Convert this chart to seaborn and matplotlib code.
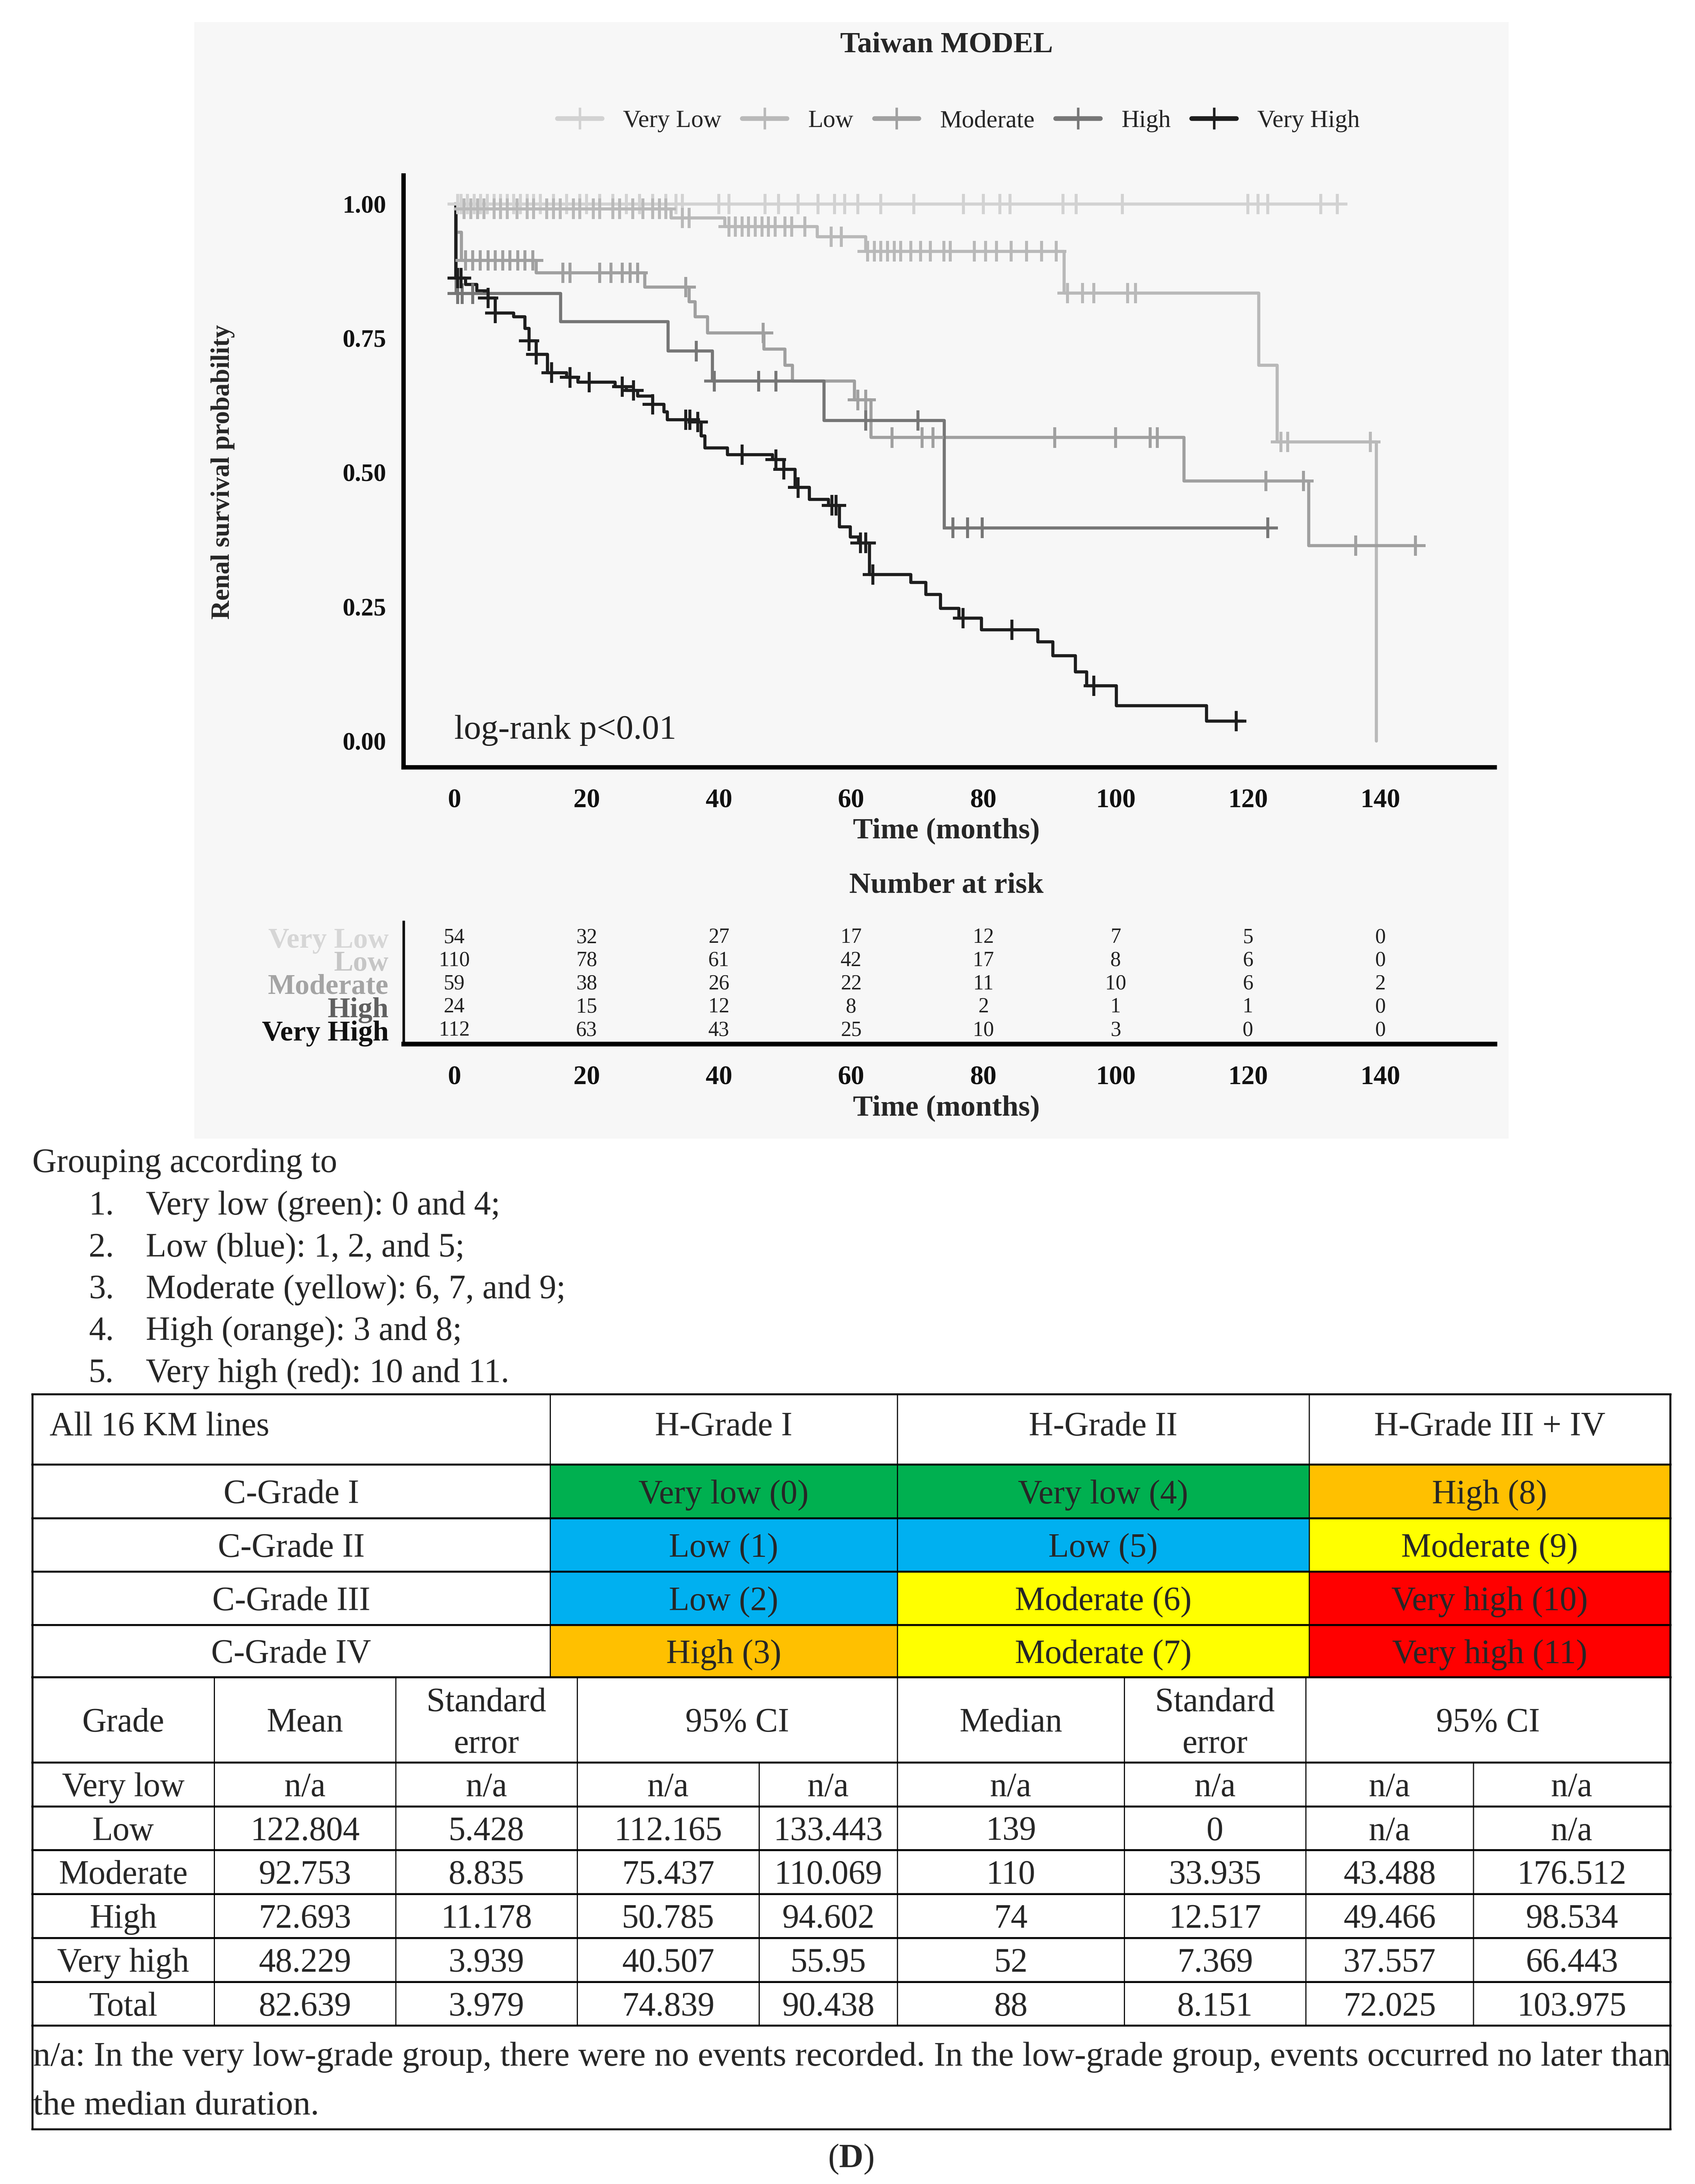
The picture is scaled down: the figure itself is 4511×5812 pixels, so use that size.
import numpy as np
import pandas as pd
import matplotlib
matplotlib.use("Agg")
import matplotlib.pyplot as plt
import seaborn as sns
from matplotlib.lines import Line2D
from matplotlib.patches import Rectangle

# ---------------- data ----------------
groups = ["Very Low", "Low", "Moderate", "High", "Very High"]

vlow_t = [0, 133.5]
vlow_s = [1.0, 1.0]
vlow_c = [0.5, 1, 2, 3, 4, 5, 6, 7, 8, 9, 10, 11, 12, 13, 15, 17, 19, 20, 22, 24, 26, 28, 30, 32,
          33.5, 34.5, 40, 41.5, 47, 49, 52, 55, 57.5, 59, 61, 64.5, 69.5, 77, 80, 82.5, 84,
          92, 94, 101, 120, 121.5, 123, 131, 133.5]

low_t = [0, 0.5, 32.8, 40.9, 54.9, 62.2, 92.2, 121.6, 124.4, 139.4]
low_s = [1.0, 0.991, 0.974, 0.958, 0.939, 0.912, 0.834, 0.700, 0.557, 0.0]
low_c = [1.5, 2.5, 3.5, 4.5, 6, 7, 8, 9.5, 11, 12, 14, 15, 16, 18, 19, 21, 22, 24, 25, 27, 28.5, 30, 31, 32,
         34.5, 35.5, 41.5, 42.5, 43.5, 44.5, 45.5, 46.5, 47.5, 48.5, 50, 51, 53, 57, 58.5,
         62.5, 63.5, 64.5, 65.5, 66.5, 67.5, 69, 70.5, 72, 74, 75, 78.6, 80.3, 82, 84.2, 86.5, 88.8, 91,
         92.7, 95, 96.7, 101.8, 103, 125, 126, 138.5]

mod_t = [0, 0.3, 1.1, 12.4, 28.8, 35.5, 36.4, 38.3, 46.8, 50.0, 51.1, 60.5, 63.0, 110.3, 129.2, 145.3]
mod_s = [1.0, 0.947, 0.895, 0.872, 0.845, 0.818, 0.790, 0.760, 0.730, 0.700, 0.670, 0.635, 0.565,
         0.484, 0.364, 0.364]
mod_c = [1.7, 2.8, 3.9, 5.1, 6.2, 7.3, 8.4, 9.6, 10.7, 11.9, 16.4, 17.5, 22, 23.7, 25.4, 26.6, 27.7,
         35, 46.7, 61, 62.2, 66.2, 70.7, 72.4, 90.8, 100, 105.2, 106.3, 122.7, 128.4, 136.3, 145.3]

high_t = [0, 0.3, 16.1, 32.3, 39.0, 55.9, 74.1, 123.0]
high_s = [1.0, 0.833, 0.781, 0.726, 0.670, 0.597, 0.397, 0.397]
high_c = [0.5, 1.2, 2.8, 36.6, 39.3, 46, 48.6, 62.2, 70.1, 75.4, 77.6, 79.8, 123]

vhigh_t = [0, 0.2, 1.7, 3.4, 5.1, 6.2, 9.0, 10.7, 11.3, 12.4, 14.1, 17.0, 18.7, 24.3, 26.0, 27.7,
           30.0, 31.7, 32.2, 36.8, 37.3, 37.9, 41.3, 48.1, 49.8, 51.5, 53.7, 56.6, 58.2, 59.9, 61.1,
           62.8, 69.0, 71.3, 73.5, 76.3, 79.7, 88.2, 90.5, 93.9, 95.6, 100.1, 113.7, 119.3]
vhigh_s = [1.0, 0.862, 0.850, 0.838, 0.825, 0.797, 0.790, 0.768, 0.745, 0.720, 0.686, 0.677, 0.668,
           0.660, 0.653, 0.642, 0.627, 0.613, 0.598, 0.594, 0.568, 0.546, 0.533, 0.524, 0.506, 0.472,
           0.450, 0.439, 0.399, 0.380, 0.369, 0.310, 0.295, 0.273, 0.247, 0.229, 0.207, 0.185, 0.159,
           0.129, 0.103, 0.066, 0.037, 0.037]
vhigh_c = [0.5, 1.0, 5.1, 6.2, 11.3, 12.4, 14.7, 17.5, 20.4, 25.4, 27.1, 30, 35, 35.6, 36.8, 43.5,
           48.6, 49.8, 52, 57.1, 57.7, 61.4, 62.2, 63.3, 76.9, 84.3, 96.7, 118.2]

risk_times = [0, 20, 40, 60, 80, 100, 120, 140]
risk_vlow = [54, 32, 27, 17, 12, 7, 5, 0]
risk_low = [110, 78, 61, 42, 17, 8, 6, 0]
risk_mod = [59, 38, 26, 22, 11, 10, 6, 2]
risk_high = [24, 15, 12, 8, 2, 1, 1, 0]
risk_vhigh = [112, 63, 43, 25, 10, 3, 0, 0]

y_ticks = [0.0, 0.25, 0.5, 0.75, 1.0]
y_ticklabels = ["0.00", "0.25", "0.50", "0.75", "1.00"]
x_ticks = [0, 20, 40, 60, 80, 100, 120, 140]

grouping_intro = "Grouping according to"
grouping_items = ["Very low (green): 0 and 4;", "Low (blue): 1, 2, and 5;",
                  "Moderate (yellow): 6, 7, and 9;", "High (orange): 3 and 8;",
                  "Very high (red): 10 and 11."]

t1_header = ["All 16 KM lines", "H-Grade I", "H-Grade II", "H-Grade III + IV"]
t1_rows = ["C-Grade I", "C-Grade II", "C-Grade III", "C-Grade IV"]
t1_cells = [["Very low (0)", "Very low (4)", "High (8)"],
            ["Low (1)", "Low (5)", "Moderate (9)"],
            ["Low (2)", "Moderate (6)", "Very high (10)"],
            ["High (3)", "Moderate (7)", "Very high (11)"]]
cell_colors = {"Very low": "#00B050", "Low": "#00B0F0", "Moderate": "#FFFF00",
               "High": "#FFC000", "Very high": "#FF0000"}

t2_header = ["Grade", "Mean", "Standard\nerror", "95% CI", "Median", "Standard\nerror", "95% CI"]
t2_grade = ["Very low", "Low", "Moderate", "High", "Very high", "Total"]
t2_mean = ["n/a", "122.804", "92.753", "72.693", "48.229", "82.639"]
t2_se = ["n/a", "5.428", "8.835", "11.178", "3.939", "3.979"]
t2_lo = ["n/a", "112.165", "75.437", "50.785", "40.507", "74.839"]
t2_hi = ["n/a", "133.443", "110.069", "94.602", "55.95", "90.438"]
t2_median = ["n/a", "139", "110", "74", "52", "88"]
t2_se2 = ["n/a", "0", "33.935", "12.517", "7.369", "8.151"]
t2_lo2 = ["n/a", "n/a", "43.488", "49.466", "37.557", "72.025"]
t2_hi2 = ["n/a", "n/a", "176.512", "98.534", "66.443", "103.975"]
footnote = ["n/a: In the very low-grade group, there were no events recorded. In the low-grade group, events occurred no later than",
            "the median duration."]

# ---------------- styling ----------------
sns.set_theme(style="white")
plt.rcParams["font.family"] = ["Liberation Serif", "DejaVu Serif"]
plt.rcParams["mathtext.fontset"] = "custom"
plt.rcParams["mathtext.rm"] = "Liberation Serif"
plt.rcParams["mathtext.bf"] = "Liberation Serif:bold"

line_colors = {"Very Low": "#d2d2d2", "Low": "#b9b9b9", "Moderate": "#a0a0a0",
               "High": "#767676", "Very High": "#1e1e1e"}
label_colors = {"Very Low": "#d6d6d6", "Low": "#c6c6c6", "Moderate": "#a4a4a4",
                "High": "#606060", "Very High": "#111111"}

W, H = 4511, 5812
fig = plt.figure(figsize=(W / 300, H / 300), dpi=300)
fig.patch.set_facecolor("white")

# background axes in pixel coordinates
bg = fig.add_axes([0, 0, 1, 1])
bg.set_xlim(0, W)
bg.set_ylim(H, 0)
bg.axis("off")
bg.add_patch(Rectangle((517, 59), 4015 - 517, 3030 - 59, facecolor="#f7f7f7", edgecolor="none", zorder=0))

def fx(px):
    return px / W

def fy(py):
    return 1 - py / H

# ---------------- KM axes ----------------
ax = fig.add_axes([fx(1074), fy(2042), fx(3978) - fx(1074), fy(467) - fy(2042)])
ax.set_facecolor("none")

def step_val(ts, ss, c):
    ts = np.asarray(ts)
    ss = np.asarray(ss)
    idx = np.searchsorted(ts, c, side="right") - 1
    return ss[np.clip(idx, 0, len(ss) - 1)]

curve_data = [(vlow_t, vlow_s, vlow_c), (low_t, low_s, low_c), (mod_t, mod_s, mod_c),
              (high_t, high_s, high_c), (vhigh_t, vhigh_s, vhigh_c)]
curves = pd.concat([pd.DataFrame({"time": t, "surv": s, "group": g})
                    for g, (t, s, c) in zip(groups, curve_data)], ignore_index=True)
cens = pd.concat([pd.DataFrame({"time": c, "surv": step_val(t, s, c), "group": g})
                  for g, (t, s, c) in zip(groups, curve_data)], ignore_index=True)

sns.lineplot(data=curves, x="time", y="surv", hue="group", hue_order=groups, palette=line_colors,
             estimator=None, sort=False, drawstyle="steps-post", linewidth=2.0, legend=False, ax=ax)
sns.scatterplot(data=cens, x="time", y="surv", hue="group", hue_order=groups, palette=line_colors,
                marker="+", s=170, linewidth=1.9, legend=False, ax=ax, zorder=3)

ax.set_xlim(-7.67, 157.3)
ax.set_ylim(-0.049, 1.053)
ax.set_yticks(y_ticks)
ax.set_yticklabels(y_ticklabels)
ax.set_xticks(x_ticks)
ax.set_xlabel("")
ax.set_ylabel("")
for s in ["top", "right"]:
    ax.spines[s].set_visible(False)
for s in ["left", "bottom"]:
    ax.spines[s].set_linewidth(2.8)
    ax.spines[s].set_color("black")
ax.tick_params(axis="y", direction="out", length=6.8, width=2.4, color="black", pad=4.3, labelsize=16)
ax.tick_params(axis="x", direction="out", length=6.5, width=2.4, color="black", pad=7.0, labelsize=17)
for lab in ax.get_xticklabels() + ax.get_yticklabels():
    lab.set_fontweight("bold")
    lab.set_color("#111111")
ax.text(0, 0.02, "log-rank p<0.01", fontsize=22, ha="left", va="center", color="#222222")

fig.text(fx(2519), fy(120), "Taiwan MODEL", fontsize=19, fontweight="bold", ha="center", va="center")
fig.text(fx(593), fy(1256), "Renal survival probability", fontsize=16.8, fontweight="bold",
         rotation=90, ha="center", va="center")
fig.text(fx(2519), fy(2213), "Time (months)", fontsize=19, fontweight="bold", ha="center", va="center")
fig.text(fx(2519), fy(2357), "Number at risk", fontsize=19, fontweight="bold", ha="center", va="center")

handles = [Line2D([0], [0], color=line_colors[g], lw=3.0, marker="+", markersize=14, mew=1.6)
           for g in groups]
fig.legend(handles, groups, loc="center", bbox_to_anchor=(fx(2551), fy(322)), ncol=5, frameon=False,
           fontsize=15.8, handlelength=1.8, handletextpad=0.85, columnspacing=0.85)

# ---------------- risk table ----------------
axr = fig.add_axes([fx(1074), fy(2778), fx(3978) - fx(1074), fy(2453) - fy(2778)])
axr.set_facecolor("none")
axr.set_xlim(-7.67, 157.3)
axr.set_ylim(4.58, -0.68)
risk_rows = [risk_vlow, risk_low, risk_mod, risk_high, risk_vhigh]
for i, row in enumerate(risk_rows):
    for t, n in zip(risk_times, row):
        axr.text(t, i, str(n), ha="center", va="center", fontsize=13.5, color="#222222")
axr.set_yticks(range(len(groups)))
axr.set_yticklabels(groups)
axr.set_xticks(x_ticks)
for s in ["top", "right"]:
    axr.spines[s].set_visible(False)
axr.spines["left"].set_linewidth(1.6)
axr.spines["bottom"].set_linewidth(3.0)
axr.spines["left"].set_color("black")
axr.spines["bottom"].set_color("black")
axr.tick_params(axis="y", direction="out", length=8, width=1.8, color="black", pad=1.5, labelsize=18.5)
axr.tick_params(axis="x", direction="out", length=7.7, width=1.3, color="black", pad=6.0, labelsize=17)
for lab, g in zip(axr.get_yticklabels(), groups):
    lab.set_fontweight("bold")
    lab.set_color(label_colors[g])
for lab in axr.get_xticklabels():
    lab.set_fontweight("bold")
    lab.set_color("#111111")
fig.text(fx(2519), fy(2951), "Time (months)", fontsize=19, fontweight="bold", ha="center", va="center")

# ---------------- lower text & tables ----------------
FS = 21.5
bg.text(86, 3097, grouping_intro, fontsize=FS, ha="left", va="center")
list_y = [3210, 3322, 3433, 3544, 3656]
for k, (item, yy) in enumerate(zip(grouping_items, list_y)):
    bg.text(236, yy, f"{k + 1}.", fontsize=FS, ha="left", va="center")
    bg.text(388, yy, item, fontsize=FS, ha="left", va="center")

# table 1
T1_x = [86, 1464, 2388, 3484, 4445]
T1_y = [3710, 3897, 4040, 4182, 4324, 4463]
for r in range(4):
    for c in range(3):
        txt = t1_cells[r][c]
        key = txt.rsplit(" (", 1)[0]
        bg.add_patch(Rectangle((T1_x[c + 1], T1_y[r + 1]), T1_x[c + 2] - T1_x[c + 1],
                               T1_y[r + 2] - T1_y[r + 1], facecolor=cell_colors[key],
                               edgecolor="none", zorder=1))
        bg.text((T1_x[c + 1] + T1_x[c + 2]) / 2, (T1_y[r + 1] + T1_y[r + 2]) / 2, txt,
                fontsize=FS, ha="center", va="center_baseline", zorder=3)
    bg.text((T1_x[0] + T1_x[1]) / 2, (T1_y[r + 1] + T1_y[r + 2]) / 2, t1_rows[r],
            fontsize=FS, ha="center", va="center_baseline", zorder=3)
bg.text(132, 3788, t1_header[0], fontsize=FS, ha="left", va="center_baseline", zorder=3)
for c in range(1, 4):
    bg.text((T1_x[c] + T1_x[c + 1]) / 2, 3788, t1_header[c], fontsize=FS, ha="center",
            va="center_baseline", zorder=3)

HLW, VLW = 1.25, 0.7
for yy in T1_y:
    bg.plot([T1_x[0] - 3, T1_x[-1] + 3], [yy, yy], color="black", lw=HLW, zorder=4, solid_capstyle="butt")
for i, xx in enumerate(T1_x):
    bg.plot([xx, xx], [T1_y[0], T1_y[-1]], color="black", lw=(HLW if i in (0, len(T1_x) - 1) else VLW),
            zorder=4)

# table 2
T2_y = [4463, 4690, 4807, 4923, 5040, 5157, 5274, 5390, 5666]
T2_x = [86, 570, 1053, 1536, 2020, 2388, 2992, 3475, 3921, 4445]
hdr_spans = [(0, 1), (1, 2), (2, 3), (3, 5), (5, 6), (6, 7), (7, 9)]
hy = (T2_y[0] + T2_y[1]) / 2
for (a, b), h in zip(hdr_spans, t2_header):
    cx = (T2_x[a] + T2_x[b]) / 2
    if "\n" in h:
        l1, l2 = h.split("\n")
        bg.text(cx, 4522, l1, fontsize=FS, ha="center", va="center_baseline")
        bg.text(cx, 4633, l2, fontsize=FS, ha="center", va="center_baseline")
    else:
        bg.text(cx, hy, h, fontsize=FS, ha="center", va="center_baseline")
cols = [t2_grade, t2_mean, t2_se, t2_lo, t2_hi, t2_median, t2_se2, t2_lo2, t2_hi2]
for r in range(len(t2_grade)):
    cy = (T2_y[r + 1] + T2_y[r + 2]) / 2
    for c, col in enumerate(cols):
        bg.text((T2_x[c] + T2_x[c + 1]) / 2, cy, col[r], fontsize=FS, ha="center", va="center_baseline")

for yy in T2_y:
    bg.plot([T2_x[0] - 3, T2_x[-1] + 3], [yy, yy], color="black", lw=HLW, zorder=4, solid_capstyle="butt")
for i, xx in enumerate(T2_x):
    if i in (0, len(T2_x) - 1):
        bg.plot([xx, xx], [T2_y[0], T2_y[-1]], color="black", lw=HLW, zorder=4)
    elif i in (4, 8):
        bg.plot([xx, xx], [T2_y[1], T2_y[7]], color="black", lw=VLW, zorder=4)
    else:
        bg.plot([xx, xx], [T2_y[0], T2_y[7]], color="black", lw=VLW, zorder=4)

fn1 = bg.text(88, 5465, footnote[0], fontsize=FS, ha="left", va="center_baseline")
fn2 = bg.text(88, 5595, footnote[1], fontsize=FS, ha="left", va="center_baseline")
fig.canvas.draw()
bb = fn1.get_window_extent()
target = 4440 - 88
scale = target / bb.width
fn1.set_fontsize(FS * scale)
fn2.set_fontsize(FS * scale)

bg.text(2264, 5735, r"($\mathbf{D}$)", fontsize=FS, ha="center", va="center_baseline")

fig.savefig("out.png", dpi=300, facecolor="white")
